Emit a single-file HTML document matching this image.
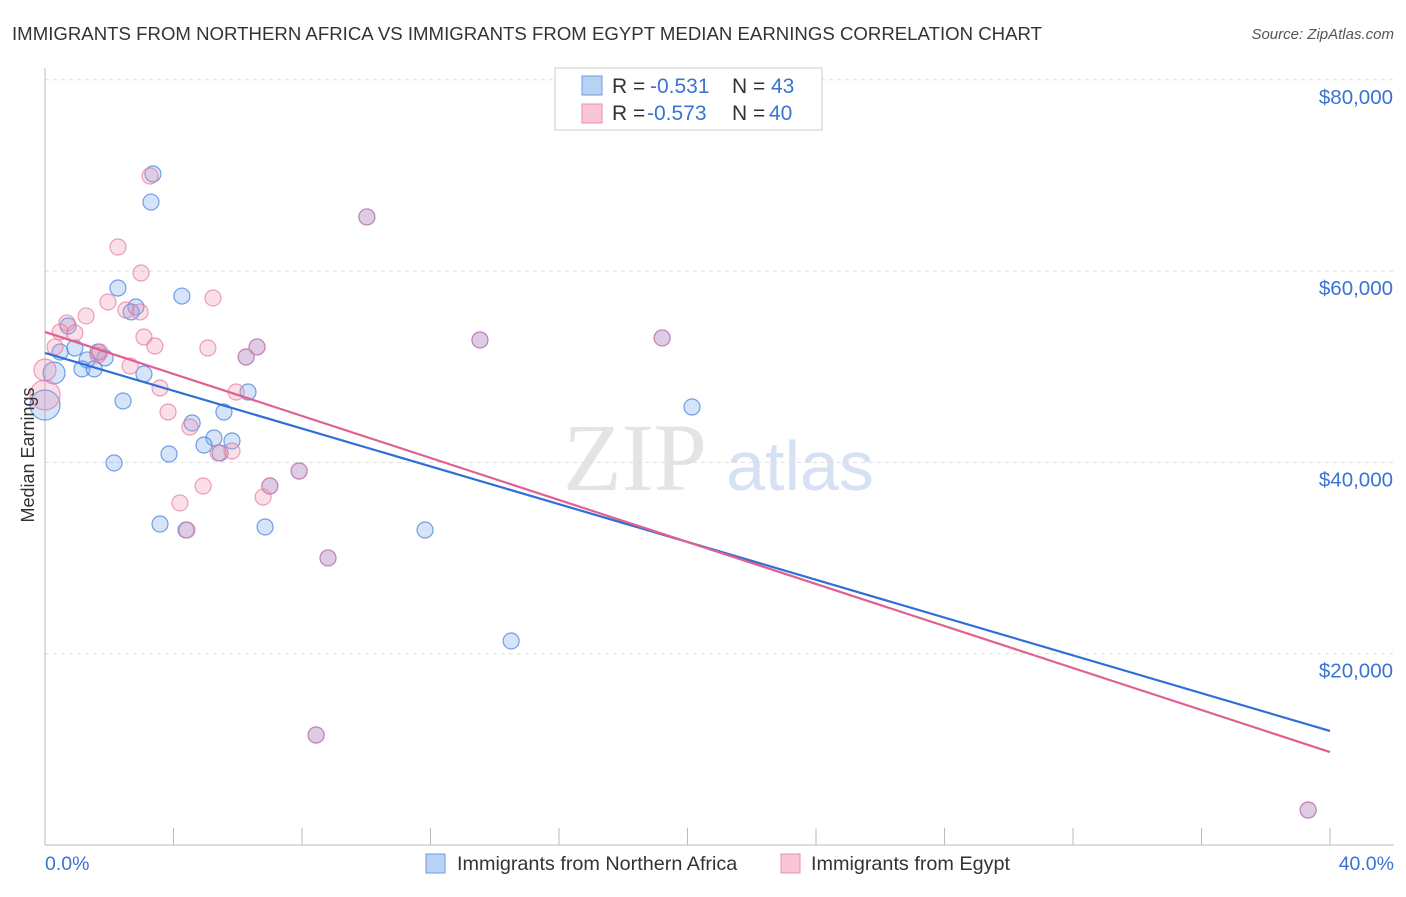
<!DOCTYPE html>
<html><head><meta charset="utf-8"><style>
body{margin:0;background:#fff;font-family:"Liberation Sans",sans-serif;}
svg text{font-family:"Liberation Sans",sans-serif;}
</style></head><body>
<svg id="chart" width="1406" height="892" viewBox="0 0 1406 892">
<text x="12" y="40" font-size="18.6" fill="#333" textLength="1030">IMMIGRANTS FROM NORTHERN AFRICA VS IMMIGRANTS FROM EGYPT MEDIAN EARNINGS CORRELATION CHART</text>
<text x="1394" y="39" font-size="15" fill="#555" text-anchor="end" font-style="italic">Source: ZipAtlas.com</text>
<g>
<text x="635" y="490" font-size="96" fill="#e4e4e4" text-anchor="middle" font-family="Liberation Serif" style="font-family:'Liberation Serif',serif">ZIP</text>
<text x="800" y="490" font-size="70" fill="#d6e2f3" text-anchor="middle">atlas</text>
</g>
<g id="grid"></g>
<g id="axes"></g>
<g id="points"></g>
<g id="lines"></g>
<text x="34" y="455" font-size="18" fill="#333" text-anchor="middle" transform="rotate(-90 34 455)">Median Earnings</text>
<g>
<rect x="555" y="68" width="267" height="62" fill="#fff" stroke="#ccc"/>
<rect x="582" y="76" width="20" height="19" fill="#b8d2f4" stroke="#6b9ee0"/>
<rect x="582" y="104" width="20" height="19" fill="#f9c6d6" stroke="#ea8fae"/>
<text x="612" y="93" font-size="21" fill="#333">R = </text><text x="650" y="93" font-size="21" fill="#3b73d3">-0.531</text>
<text x="732" y="93" font-size="21" fill="#333">N = </text><text x="771" y="93" font-size="21" fill="#3b73d3">43</text>
<text x="612" y="120" font-size="21" fill="#333">R = </text><text x="647" y="120" font-size="21" fill="#3b73d3">-0.573</text>
<text x="732" y="120" font-size="21" fill="#333">N = </text><text x="769" y="120" font-size="21" fill="#3b73d3">40</text>
</g>
<g>
<rect x="426" y="854" width="19" height="19" fill="#b8d2f4" stroke="#6b9ee0"/>
<text x="457" y="870" font-size="19.8" fill="#333">Immigrants from Northern Africa</text>
<rect x="781" y="854" width="19" height="19" fill="#f9c6d6" stroke="#ea8fae"/>
<text x="811" y="870" font-size="19.8" fill="#333">Immigrants from Egypt</text>
</g>
</svg>
<script>
const yTicks=[20000,40000,60000,80000];
const yTickLabels=["$20,000","$40,000","$60,000","$80,000"];
const xTickLabels=["0.0%","40.0%"];
const blueX=[3.36,3.30,4.26,2.27,2.83,2.68,0.72,0.47,0.93,1.65,1.87,1.31,1.15,1.53,0.28,0.0,3.08,2.43,6.32,5.57,4.58,5.26,4.95,5.82,3.86,5.45,2.15,3.58,6.85,4.39,7.91,7.00,11.83,14.51,20.14,10.02,13.54,19.21,6.60,6.26,8.81,8.44,39.32];
const blueY=[70150,67220,57390,58230,56250,55730,54260,51540,51960,51540,50920,50710,49770,49770,49350,46000,49240,46420,47360,45270,44120,42550,41820,42240,40880,40980,39940,33560,33250,32930,39100,37530,32930,21330,45790,65660,52800,53010,52070,51020,30010,11500,3660];
const blueR=[8,8,8,8,8,8,8,8,8,8,8,8,8,8,11,15,8,8,8,8,8,8,8,8,8,8,8,8,8,8,8,8,8,8,8,8,8,8,8,8,8,8,8];
const pinkX=[3.27,2.27,2.99,1.96,2.52,5.23,2.96,1.28,0.68,0.47,0.93,0.31,3.08,3.42,5.07,2.65,1.65,3.58,3.83,4.51,5.95,5.82,4.92,4.20,6.79,0.0,4.42,10.02,13.54,19.21,6.60,6.26,8.81,8.44,39.32,7.91,7.00,5.39,1.71,0.0];
const pinkY=[69940,62520,59800,56770,55930,57190,55730,55310,54580,53640,53530,52070,53110,52170,51960,50080,51230,47780,45270,43700,47360,41190,37530,35760,36380,47050,32930,65660,52800,53010,52070,51020,30010,11500,3660,39100,37530,40980,51540,49660];
const pinkR=[8,8,8,8,8,8,8,8,8,8,8,8,8,8,8,8,8,8,8,8,8,8,8,8,8,15,8,8,8,8,8,8,8,8,8,8,8,8,8,11];
const blueTrend=[51440,11920];
const pinkTrend=[53640,9720];
const trendX=[0,40];

const X=v=>45+v/40*1285;
const Y=v=>845-v/20000*191.3;
const NS="http://www.w3.org/2000/svg";
function mk(tag,attrs,parent){const e=document.createElementNS(NS,tag);for(const k in attrs)e.setAttribute(k,attrs[k]);parent.appendChild(e);return e;}
const grid=document.getElementById('grid'),axes=document.getElementById('axes'),pts=document.getElementById('points'),lines=document.getElementById('lines');
yTicks.forEach((t,i)=>{
  const l=mk('line',{x1:45,x2:1394,y1:Y(t),y2:Y(t),stroke:'#ddd','stroke-dasharray':'4,4'},grid);
  
  
  const tx=mk('text',{x:1393,y:Y(t)+24,'font-size':20.5,fill:'#3b73d3','text-anchor':'end'},axes);
  tx.textContent=yTickLabels[i];
  
  
});
const ya=mk('line',{x1:45,x2:45,y1:68,y2:845,stroke:'#bbb'},axes);


const xa=mk('line',{x1:45,x2:1394,y1:845,y2:845,stroke:'#bbb'},axes);


for(let i=0;i<=10;i++){
  const tk=mk('line',{x1:X(i*4),x2:X(i*4),y1:828,y2:845,stroke:'#bbb'},axes);
  
  
}
[[0,'start',45],[40,'end',1394]].forEach((a,i)=>{
  const tx=mk('text',{x:a[2],y:870,'font-size':19.5,fill:'#3b73d3','text-anchor':a[1]},axes);
  tx.textContent=xTickLabels[i];
  
  
});
blueX.forEach((x,i)=>{
  const c=mk('circle',{cx:X(x),cy:Y(blueY[i]),r:blueR[i],fill:'rgba(120,165,235,0.3)',stroke:'rgba(70,130,220,0.75)','stroke-width':1.2},pts);
  
  
});
pinkX.forEach((x,i)=>{
  const c=mk('circle',{cx:X(x),cy:Y(pinkY[i]),r:pinkR[i],fill:'rgba(240,150,180,0.3)',stroke:'rgba(230,120,160,0.7)','stroke-width':1.2},pts);
  
  
});
const bl=mk('line',{x1:X(trendX[0]),y1:Y(blueTrend[0]),x2:X(trendX[1]),y2:Y(blueTrend[1]),stroke:'#2f6fd6','stroke-width':2.2},lines);


const pl=mk('line',{x1:X(trendX[0]),y1:Y(pinkTrend[0]),x2:X(trendX[1]),y2:Y(pinkTrend[1]),stroke:'#e0608f','stroke-width':2.2},lines);


</script>
</body></html>
